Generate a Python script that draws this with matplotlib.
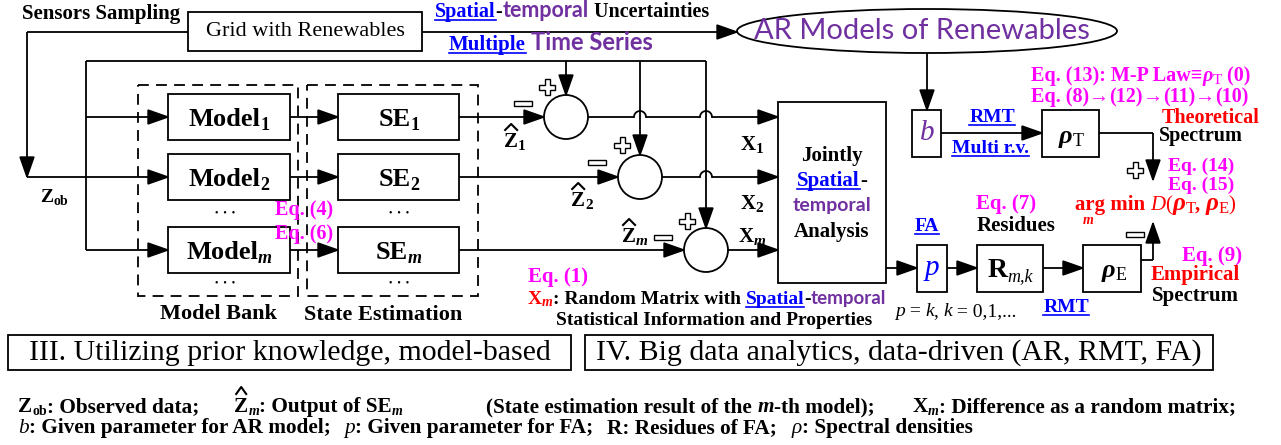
import numpy as np
import matplotlib
matplotlib.use('Agg')
import matplotlib.pyplot as plt
from matplotlib.patches import Rectangle, Circle, Ellipse, Polygon

SERIF = ['Liberation Serif', 'DejaVu Serif']
COMIC = ['Lato', 'DejaVu Sans']
BLUE, PURPLE, MAG, RED = '#0000FF', '#7030A0', '#FF00FF', '#FF0000'
LW = 1.3

# labels
row_subs = ['1', '2', 'm']
x_labels = ['1', '2', 'm']
grid_label = 'Grid with Renewables'
ar_label = 'AR Models of Renewables'
bank_label = 'Model Bank'
se_label = 'State Estimation'
part3 = 'III. Utilizing prior knowledge, model-based'
part4 = 'IV. Big data analytics, data-driven (AR, RMT, FA)'

fig = plt.figure(figsize=(12.81, 4.45), dpi=100)
ax = fig.add_axes([0, 0, 1, 1])
ax.set_xlim(0, 1281)
ax.set_ylim(445, 0)
ax.axis('off')
R = fig.canvas.get_renderer()


def tw(s, kw):
    t1 = ax.text(0, 0, '|' + s + '|', **kw)
    t2 = ax.text(0, 0, '||', **kw)
    w = t1.get_window_extent(R).width - t2.get_window_extent(R).width
    t1.remove()
    t2.remove()
    return w


def runs(x, y, parts, ha='left', size=15, color='k', weight='bold'):
    items, cx = [], 0
    for s, o in parts:
        o = dict(o)
        dy = o.pop('dy', 0)
        ul = o.pop('ul', False)
        kw = dict(family=o.pop('family', SERIF), fontsize=o.pop('size', size),
                  color=o.pop('color', color), fontweight=o.pop('weight', weight),
                  fontstyle=o.pop('style', 'normal'))
        w = tw(s, kw)
        items.append((s, kw, dy, ul, cx, w))
        cx += w
    x0 = x - {'left': 0, 'center': cx / 2, 'right': cx}[ha]
    pos = []
    for s, kw, dy, ul, off, w in items:
        ax.text(x0 + off, y + dy, s, ha='left', va='baseline', **kw)
        if ul:
            ax.plot([x0 + off, x0 + off + w], [y + 3, y + 3], color=kw['color'], lw=1.2)
        pos.append((x0 + off, w))
    return pos


def hat(xc, ytop, w=6, h=6, lw=1.5):
    ax.plot([xc - w, xc, xc + w], [ytop, ytop - h, ytop], color='k', lw=lw)


def line(xs, ys, **kw):
    ax.plot(xs, ys, color='k', lw=kw.pop('lw', LW), solid_capstyle='butt', **kw)


def arrow(x0, y0, x1, y1, hl=20, hw=14):
    line([x0, x1], [y0, y1])
    d = np.hypot(x1 - x0, y1 - y0)
    ux, uy = (x1 - x0) / d, (y1 - y0) / d
    bx, by = x1 - ux * hl, y1 - uy * hl
    px, py = -uy * hw / 2, ux * hw / 2
    ax.add_patch(Polygon([[x1, y1], [bx + px, by + py], [bx - px, by - py]],
                         closed=True, color='k', zorder=3))


def hop_line(xa, xb, y, hops, r=6):
    cur = xa
    for h in hops:
        line([cur, h - r], [y, y])
        t = np.linspace(np.pi, 0, 20)
        ax.plot(h + r * np.cos(t), y - r * np.sin(t), color='k', lw=LW)
        cur = h + r
    return cur


def box(x0, y0, x1, y1, **kw):
    ax.add_patch(Rectangle((x0, y0), x1 - x0, y1 - y0, fill=kw.pop('fill', True),
                           facecolor='white', edgecolor='k', lw=kw.pop('lw', LW), **kw))


def plus(cx, cy, a=8, b=2.5):
    pts = [(-b, -a), (b, -a), (b, -b), (a, -b), (a, b), (b, b), (b, a), (-b, a),
           (-b, b), (-a, b), (-a, -b), (-b, -b)]
    ax.add_patch(Polygon([(cx + px, cy + py) for px, py in pts], closed=True,
                         facecolor='white', edgecolor='k', lw=1.0, zorder=4))


def minus(cx, cy, a=9, b=2.5):
    ax.add_patch(Rectangle((cx - a, cy - b), 2 * a, 2 * b, facecolor='white',
                           edgecolor='k', lw=1.0, zorder=4))


# ---------- top: sensors / grid / AR ellipse ----------
runs(22, 19, [('Sensors Sampling', {})], size=15)
box(188, 12, 422, 51)
ax.text(305, 32, grid_label, ha='center', va='center', family=SERIF, fontsize=16)
line([188, 27], [32, 32])
arrow(27, 32, 27, 177)
arrow(422, 32, 737, 32)
runs(435, 17, [('Spatial', dict(color=BLUE, ul=True)), ('-', {}),
               ('temporal', dict(family=COMIC, color=PURPLE, size=15.5)),
               (' Uncertainties', {})], size=14.5)
runs(449, 50, [('Multiple', dict(color=BLUE, ul=True)), (' ', {}),
               ('Time Series', dict(family=COMIC, color=PURPLE, size=17))], size=15)
ax.add_patch(Ellipse((927, 31), 380, 44, facecolor='white', edgecolor='k', lw=LW))
ax.text(922, 31, ar_label, ha='center', va='center', family=COMIC, fontsize=21,
        color=PURPLE)

# ---------- model bank and state estimation ----------
row_y = [117, 177, 250]
line([86, 706], [61, 61])
line([86, 86], [61, 250])
runs(54, 202, [('Z', {}), ('ob', dict(size=10, dy=3))], ha='center', size=14)

box(138, 85, 298, 296, fill=False, linestyle=(0, (6, 4)))
box(307, 85, 478, 296, fill=False, linestyle=(0, (6, 4)))
for yc, sub in zip(row_y, row_subs):
    box(168, yc - 23, 290, yc + 23)
    box(338, yc - 23, 459, yc + 23)
    sty = 'italic' if sub == 'm' else 'normal'
    runs(229, yc + 9, [('Model', {}), (sub, dict(size=13, dy=4, style=sty))],
         ha='center', size=19)
    runs(399, yc + 9, [('SE', {}), (sub, dict(size=13, dy=4, style=sty))],
         ha='center', size=19)
    arrow(290, yc, 338, yc)
arrow(86, row_y[0], 168, row_y[0])
arrow(27, row_y[1], 168, row_y[1])
arrow(86, row_y[2], 168, row_y[2])
for xc in (225, 399):
    for yy in (214, 283):
        ax.text(xc, yy, '•  •  •', ha='center', va='center', fontsize=7, family=SERIF)
runs(218, 319, [(bank_label, {})], ha='center', size=16)
runs(383, 320, [(se_label, {})], ha='center', size=16)
runs(275, 215, [('Eq. (4)', dict(color=MAG))], size=14.5)
runs(275, 239, [('Eq. (6)', dict(color=MAG))], size=14.5)

# ---------- subtraction circles ----------
cx_list = [566, 640, 706]
zhat_pos = [(515, 147), (582, 206), (635, 242)]
minus_pos = [(523, 103), (597, 162), (663, 237)]
plus_pos = [(547, 87), (622, 145), (687, 221)]
xlab_y = [150, 209, 242]
hops_list = [[640, 706], [706], []]
for i in range(3):
    cx, yc = cx_list[i], row_y[i]
    ax.add_patch(Circle((cx, yc), 22, facecolor='white', edgecolor='k', lw=LW, zorder=2))
    arrow(459, yc, cx - 22, yc)
    arrow(cx, 61, cx, yc - 22)
    end = hop_line(cx + 22, 778, yc, hops_list[i])
    arrow(end, yc, 778, yc)
    sty = 'italic' if x_labels[i] == 'm' else 'normal'
    zx, zy = zhat_pos[i]
    p = runs(zx, zy, [('Z', {}), (x_labels[i], dict(size=11, dy=3, style=sty))],
             ha='center', size=15)
    hat(p[0][0] + p[0][1] / 2, zy - 17)
    runs(752, xlab_y[i], [('X', {}), (x_labels[i], dict(size=11, dy=3, style=sty))],
         ha='center', size=15)
    minus(*minus_pos[i])
    plus(*plus_pos[i])

# ---------- joint analysis ----------
box(778, 102, 886, 283)
runs(832, 161, [('Jointly', {})], ha='center', size=15)
runs(832, 186, [('Spatial', dict(color=BLUE, ul=True)), ('-', {})], ha='center', size=15)
runs(832, 211, [('temporal', dict(family=COMIC, color=PURPLE, size=14))], ha='center')
runs(832, 237, [('Analysis', {})], ha='center', size=15)
runs(528, 282, [('Eq. (1)', dict(color=MAG))], size=15)
runs(528, 304, [('X', dict(color=RED)), ('m', dict(color=RED, style='italic', size=10, dy=2)),
                (': Random Matrix with ', {}), ('Spatial', dict(color=BLUE, ul=True)),
                ('-', {}), ('temporal', dict(family=COMIC, color=PURPLE, size=13.5))],
     size=14)
runs(556, 325, [('Statistical Information and Properties', {})], size=14)

# ---------- AR / theoretical path ----------
arrow(927, 53, 927, 110)
box(912, 110, 941, 157)
ax.text(927, 133, 'b', ha='center', va='center', family=SERIF, fontstyle='italic',
        fontsize=21, color=PURPLE)
arrow(941, 133, 1042, 133)
runs(992, 122, [('RMT', dict(color=BLUE, ul=True))], ha='center', size=14)
runs(990, 153, [('Multi r.v.', dict(color=BLUE, ul=True))], ha='center', size=14)
box(1042, 110, 1099, 157)
runs(1071, 143, [('ρ', dict(style='italic', size=19)),
                 ('T', dict(weight='normal', size=13, dy=3))], ha='center')
line([1099, 1153], [133, 133])
arrow(1153, 133, 1153, 180)
runs(1031, 81, [('Eq. (13): M-P Law≡', {}), ('ρ', dict(style='italic')),
                ('T', dict(weight='normal', size=11, dy=3)), (' (0)', {})],
     size=14.5, color=MAG)
runs(1031, 102, [('Eq. (8)', {}), ('→', dict(weight='normal')), ('(12)', {}),
                 ('→', dict(weight='normal')), ('(11)', {}),
                 ('→', dict(weight='normal')), ('(10)', {})], size=14.5, color=MAG)
runs(1260, 123, [('Theoretical', {})], ha='right', size=14.5, color=RED)
runs(1159, 141, [('Spectrum', {})], size=14.5)
plus(1135, 170)
runs(1168, 171, [('Eq. (14)', {})], size=14, color=MAG)
runs(1168, 190, [('Eq. (15)', {})], size=14, color=MAG)
runs(1075, 210, [('arg min ', {}), ('D', dict(style='italic', weight='normal')),
                 ('(', dict(weight='normal')), ('ρ', dict(style='italic', size=18)),
                 ('T', dict(weight='normal', size=12, dy=3)), (', ', {}),
                 ('ρ', dict(style='italic', size=18)),
                 ('E', dict(weight='normal', size=12, dy=3)), (')', dict(weight='normal'))],
     size=15, color=RED)
runs(1088, 224, [('m', dict(style='italic'))], ha='center', size=10, color=RED)

# ---------- FA / empirical path ----------
arrow(886, 268, 917, 268)
box(917, 245, 947, 292)
ax.text(932, 268, 'p', ha='center', va='center', family=SERIF, fontstyle='italic',
        fontsize=21, color=BLUE)
runs(927, 231, [('FA', dict(color=BLUE, ul=True))], ha='center', size=14)
arrow(947, 268, 977, 268)
box(977, 245, 1043, 292)
runs(1010, 277, [('R', dict(size=20)),
                 ('m,k', dict(weight='normal', style='italic', size=13, dy=4))], ha='center')
runs(976, 209, [('Eq. (7)', dict(color=MAG))], size=15)
runs(977, 231, [('Residues', {})], size=15)
arrow(1043, 268, 1083, 268)
box(1083, 245, 1141, 292)
runs(1114, 277, [('ρ', dict(style='italic', size=19)),
                 ('E', dict(weight='normal', size=13, dy=3))], ha='center')
line([1141, 1153], [260, 260])
arrow(1153, 260, 1153, 223)
minus(1135, 234)
runs(1242, 261, [('Eq. (9)', {})], ha='right', size=15, color=MAG)
runs(1240, 280, [('Empirical', {})], ha='right', size=15, color=RED)
runs(1152, 301, [('Spectrum', {})], size=15)
runs(895, 316, [('p', dict(style='italic')), (' = ', {}), ('k', dict(style='italic')),
                (', ', {}), ('k', dict(style='italic')), (' = 0,1,...', {})],
     size=14, weight='normal')
runs(1066, 312, [('RMT', dict(color=BLUE, ul=True))], ha='center', size=14)

# ---------- bottom boxes ----------
box(8, 335, 571, 370)
box(585, 335, 1213, 370)
ax.text(290, 353, part3, ha='center', va='center', family=SERIF, fontsize=21.5)
ax.text(899, 353, part4, ha='center', va='center', family=SERIF, fontsize=21.5)

# ---------- legend notes ----------
S = 15.3
sub = dict(size=10, dy=3)
subi = dict(size=10, dy=3, style='italic')
ital = dict(style='italic', weight='normal')
note1 = [([('Z', {}), ('ob', sub), (': Observed data;', {})], 35),
         ([('Z', {}), ('m', subi), (': Output of SE', {}), ('m', subi)], 84),
         ([('(State estimation result of the ', {}), ('m', dict(style='italic')),
           ('-th model);', {})], 38),
         ([('X', {}), ('m', subi), (': Difference as a random matrix;', {})], 0)]
note2 = [([('b', ital), (': Given parameter for AR model;', {})], 14),
         ([('p', ital), (': Given parameter for FA;', {})], 14),
         ([('R: Residues of FA;', {})], 14),
         ([('ρ', ital), (': Spectral densities', {})], 0)]
for yb, note in ((412, note1), (433, note2)):
    x = 18
    for k, (parts, gap) in enumerate(note):
        p = runs(x, yb, parts, size=S)
        if note is note1 and k == 1:
            hat(p[0][0] + p[0][1] / 2, 394, w=5, h=7)
        x = p[-1][0] + p[-1][1] + gap

fig.savefig('out.png', dpi=100)
